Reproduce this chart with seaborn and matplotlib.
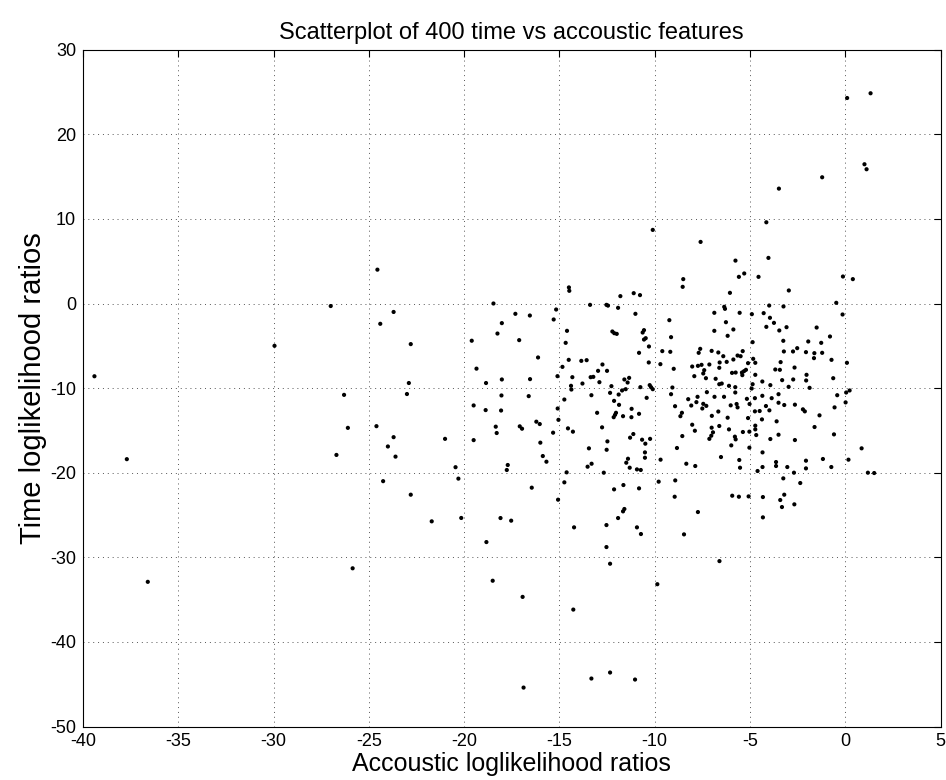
import matplotlib
matplotlib.use("Agg")
import matplotlib.pyplot as plt
import seaborn as sns
import pandas as pd

# Acoustic loglikelihood ratios (x) and time loglikelihood ratios (y)
acoustic = [
    -39.4, -37.7, -29.95, -36.6,
    -24.55, -27.0, -23.7, -24.4, -22.8, -19.6, -19.35, -18.85, -22.9, -23.0, -26.3, -19.5, -18.87, -26.1, -24.6, -23.7,
    -21.0, -19.5, -24.0, -26.7, -23.6, -20.45, -20.3, -24.25, -22.8, -20.15, -21.7, -18.83, -25.85,
    -14.5, -14.48, -18.46, -13.39, -17.31, -16.55, -15.17, -15.3, -18.02, -18.25, -14.6, -17.11, -14.67, -16.12, -14.51,
    -13.85, -13.57, -14.84, -12.97, -15.1, -14.32, -13.36, -13.22, -16.54, -18.02, -13.79, -12.9, -14.39, -14.37,
    -18.04, -16.61, -13.32, -14.74, -18.06, -15.09, -13.02, -15.05,
    -18.34, -18.29, -17.08, -16.96, -16.21, -16.03, -15.33, -14.55, -14.29, -16.0, -13.45, -15.87, -15.68, -17.71,
    -17.76, -13.52, -13.31, -14.62, -14.74, -16.45, -15.07, -18.09, -17.53, -14.23, -18.5,
    -16.93, -14.27, -9.86, -16.88, -13.32, -12.34, -11.03,
    -8.5, -8.53, -11.8, -11.1, -10.77, -12.53, -12.45, -11.92, -11.01, -6.87, -9.23, -12.22, -12.12, -11.99, -10.56,
    -10.63, -6.87, -9.14, -10.47, -10.56, -10.3, -9.6, -9.18, -10.82, -7.61, -7.69, -7.01, -6.66, -10.31, -9.7,
    -12.74, -9.0, -8.03, -7.73, -7.54, -7.13, -6.59, -6.61, -12.5, -7.4, -7.45, -7.92, -7.31, -6.8, -11.59, -11.34,
    -11.42, -12.27, -10.26, -10.19, -10.1, -10.75, -11.52, -11.71, -9.07, -12.34, -11.89, -9.14, -7.26, -6.61, -10.42,
    -12.13, -8.24, -7.75, -6.86, -11.87, -8.93, -8.08, -7.81, -7.45, -7.29, -11.21, -7.5, -10.82, -12.03, -12.08,
    -12.15, -11.66, -11.22, -8.65, -8.57, -7.0, -6.66,
    -12.76, -12.48, -12.52, -11.12, -11.29, -10.66, -10.49, -10.24, -10.51, -10.51, -11.4, -11.49, -11.31, -10.93,
    -10.73, -12.67, -9.69, -8.03, -7.89, -8.55, -8.83, -7.01, -6.94, -7.03, -7.13, -6.61, -8.34, -7.87, -9.79, -8.92,
    -11.64, -12.13, -10.82, -8.95, -11.59, -11.66, -11.92, -7.73, -12.53, -10.93, -10.72, -8.46, -12.53, -12.34, -6.6,
    -5.58, -5.3, -4.55, -6.05, -2.96, -6.35, -6.31, -3.99, -3.24, -5.54, -4.9, -4.28, -3.95, -6.26, -3.74, -5.87,
    -4.14, -3.46, -3.08, -6.17, -4.86, -3.25, -2.52, -2.74, -5.38, -3.22, -6.4, -5.65, -5.49, -5.87, -4.83, -6.22,
    -5.1, -4.72, -3.39, -3.43, -3.67, -2.66, -5.21, -5.31, -5.42, -5.94, -5.75, -4.72, -5.4, -4.35, -3.31, -2.73,
    -6.48, -6.1, -5.77, -4.86, -3.93, -4.91, -2.97, -6.36, -5.16, -4.74, -4.35, -3.86, -3.5, -5.77,
    -6.01, -5.7, -5.65, -5.02, -4.16, -3.5, -3.2, -2.64, -4.74, -4.49, -3.98, -5.1, -6.17, -4.37, -4.72, -4.72,
    -3.6, -6.1, -5.37, -5.03, -4.67, -5.79, -5.75, -3.93, -3.5, -2.64, -5.98, -5.03, -4.34, -6.52, -5.56, -3.63,
    -3.63, -5.52, -4.34, -4.6, -3.04, -2.69, -3.25, -2.36, -5.93, -5.58, -5.07, -4.32, -3.2, -3.41, -2.67, -3.32, -4.32,
    -0.12, 0.4, -0.47, -0.14, -1.5, -1.94, -0.8, -1.26, -2.06, -1.62, -1.21, -1.64, -0.72, 0.09, -2.03, -2.05,
    -0.63, -1.87, -0.42, 0.23, 0.05,
    -2.22, -2.12, -0.56, 0.02, -1.35, -1.61, -0.59, 0.86, -2.06, -1.17, 0.17, -2.06, -0.73, 1.19, 1.52,
    0.1, 1.33, 1.01, 1.12, -1.21, -3.48, -4.14, -7.59, -4.03, -5.76,
    -10.1,
]
time = [
    -8.6, -18.4, -5.0, -32.9,
    4.0, -0.3, -1.0, -2.4, -4.8, -4.4, -7.7, -9.4, -9.4, -10.7, -10.8, -12.05, -12.6, -14.7, -14.5, -15.8,
    -16.0, -16.15, -16.9, -17.9, -18.1, -19.35, -20.7, -21.0, -22.6, -25.35, -25.75, -28.2, -31.3,
    1.9, 1.5, 0.0, -0.16, -1.22, -1.42, -0.71, -1.89, -2.32, -3.55, -3.23, -4.33, -4.65, -6.38, -6.66,
    -6.78, -6.7, -7.49, -7.96, -8.59, -8.71, -8.71, -8.67, -8.94, -8.98, -9.46, -9.3, -9.73, -10.17,
    -10.87, -10.95, -10.84, -11.35, -12.65, -12.41, -12.92, -13.75,
    -14.56, -15.31, -14.52, -14.8, -13.97, -14.25, -15.27, -14.76, -15.15, -16.45, -17.12, -18.03, -18.7, -19.09,
    -19.68, -19.29, -18.94, -19.96, -21.14, -21.77, -23.19, -25.36, -25.67, -26.46, -32.77,
    -34.68, -36.18, -33.18, -45.4, -44.33, -43.62, -44.45,
    2.88, 1.97, 0.87, 1.22, 0.99, -0.16, -0.25, -0.51, -1.22, -1.1, -1.97, -3.31, -3.51, -3.59, -3.15,
    -3.43, -3.23, -3.98, -4.1, -4.26, -5.08, -5.63, -5.71, -5.83, -5.36, -5.83, -5.6, -5.79, -6.97, -7.17,
    -7.21, -7.72, -7.45, -7.37, -7.25, -7.21, -6.97, -7.6, -7.96, -7.88, -8.27, -8.59, -8.83, -8.9, -8.98, -8.79,
    -9.34, -9.77, -9.65, -9.89, -10.13, -9.89, -10.13, -10.28, -9.93, -10.56, -10.76, -10.72, -10.48, -9.54, -11.15,
    -11.51, -11.31, -11.03, -11.03, -11.98, -12.14, -12.06, -11.66, -11.86, -12.1, -12.45, -12.41, -13.04, -12.92, -13.16,
    -13.44, -13.32, -13.44, -13.32, -12.92, -13.28, -12.77,
    -14.64, -16.3, -17.29, -15.43, -15.86, -16.1, -16.57, -16.0, -17.6, -18.23, -18.35, -18.82, -19.41, -19.61,
    -19.68, -20.0, -18.46, -14.33, -15.04, -15.67, -17.08, -14.68, -15.23, -15.63, -16.0, -14.48, -18.94, -19.21, -21.06, -20.91,
    -21.46, -21.97, -21.85, -22.84, -24.29, -24.57, -25.36, -24.65, -26.19, -26.46, -27.25, -27.29, -28.79, -30.76, -30.45,
    3.15, 3.55, 3.15, 1.26, 1.54, -0.39, -0.63, -0.24, -0.35, -1.1, -1.26, -1.14, -1.69, -2.21, -2.29, -3.07,
    -2.76, -3.19, -2.8, -3.82, -4.57, -4.41, -5.28, -5.67, -5.63, -5.67, -6.23, -6.15, -6.23, -6.62, -6.54, -6.9,
    -7.05, -7.01, -6.93, -7.84, -7.8, -7.57, -7.84, -8.0, -8.16, -8.2, -8.16, -8.43, -8.47, -9.22, -9.06, -8.98,
    -9.46, -9.73, -9.89, -9.54, -9.65, -10.05, -9.85, -11.03, -11.27, -11.19, -10.91, -11.19, -10.72, -10.52,
    -12.04, -11.88, -12.28, -11.88, -12.12, -11.73, -12.0, -11.96, -12.75, -12.71, -12.63, -13.54, -13.5, -13.7, -14.44, -14.88,
    -13.93, -14.88, -15.19, -15.15, -15.55, -15.74, -16.06, -16.02, -15.51, -16.14, -16.77, -17.04, -17.6, -18.15, -18.5, -18.74,
    -19.21, -19.41, -19.33, -19.8, -19.33, -20.0, -20.67, -21.22, -22.72, -22.84, -22.8, -22.88, -22.6, -23.23, -23.74, -24.06, -25.28,
    3.19, 2.88, 0.08, -1.3, -2.84, -4.49, -3.9, -4.65, -5.75, -5.87, -5.83, -6.46, -6.66, -7.01, -8.43, -9.1,
    -8.83, -9.97, -10.84, -10.28, -10.52,
    -12.51, -12.75, -12.28, -11.69, -13.22, -14.6, -15.47, -17.12, -18.58, -18.38, -18.46, -19.49, -19.33, -20.0, -20.04,
    24.29, 24.85, 16.46, 15.87, 14.92, 13.58, 9.6, 7.28, 5.39, 5.07,
    8.7,
]

x_ticks = [-40, -35, -30, -25, -20, -15, -10, -5, 0, 5]
y_ticks = [-50, -40, -30, -20, -10, 0, 10, 20, 30]

df = pd.DataFrame({"acoustic": acoustic, "time": time})

sns.set_style("white")
plt.rcParams["font.family"] = ["Liberation Sans", "DejaVu Sans"]
plt.rcParams["axes.unicode_minus"] = False
plt.rcParams["text.color"] = "black"
plt.rcParams["axes.labelcolor"] = "black"

fig = plt.figure(figsize=(9.46, 7.80), dpi=100)
ax = fig.add_axes([83 / 946, 53.5 / 780, (940.5 - 83) / 946, (726.5 - 49.7) / 780])

sns.scatterplot(data=df, x="acoustic", y="time", ax=ax, s=9, color="black",
                edgecolor="none", linewidth=0, zorder=3)

ax.set_xlim(-40, 5)
ax.set_ylim(-50, 30)
ax.set_xticks(x_ticks)
ax.set_yticks(y_ticks)
ax.grid(True, linestyle=(0, (1, 4)), linewidth=0.7, color="#555555")
ax.tick_params(direction="in", top=True, right=True, length=5, width=0.8,
               labelsize=13, colors="black", pad=5)
for sp in ax.spines.values():
    sp.set_visible(True)
    sp.set_color("black")
    sp.set_linewidth(0.8)

ax.set_title("Scatterplot of 400 time vs accoustic features", fontsize=17, pad=8, color="black")
ax.set_xlabel("Accoustic loglikelihood ratios", fontsize=18, labelpad=1, color="black")
ax.set_ylabel("Time loglikelihood ratios", fontsize=21, labelpad=2, color="black")

fig.savefig("out.png", dpi=100)
